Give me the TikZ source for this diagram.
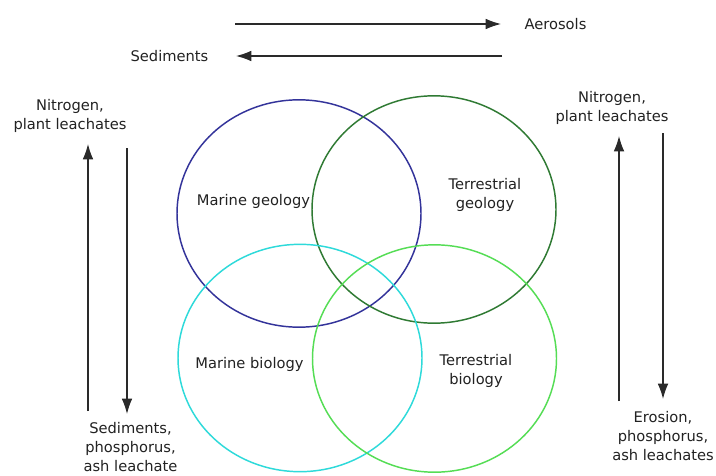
\documentclass[tikz,border=0pt]{standalone}
\usepackage{fontspec}
\setmainfont{DejaVu Sans}
\usetikzlibrary{shapes.geometric,arrows.meta}
\definecolor{cblue}{HTML}{33339A}
\definecolor{cdgreen}{HTML}{2F7A33}
\definecolor{ccyan}{HTML}{2EDADA}
\definecolor{clgreen}{HTML}{55DD55}
\definecolor{ctext}{HTML}{222222}
\definecolor{carrow}{HTML}{2A2A2A}
\tikzset{
  lbl/.style={font=\fontsize{11}{14.25}\selectfont, text=ctext, align=center, inner sep=0pt},
  venn/.style={ellipse, draw=#1, line width=1.1pt, minimum width=183pt, minimum height=170.5pt, inner sep=0pt},
  arr/.style={draw=carrow, line width=0.95pt, -{Latex[length=11.5pt,width=8pt]}},
}
\begin{document}
\begin{tikzpicture}[x=0.75pt,y=-0.75pt]
\useasboundingbox[fill=white] (0,0) rectangle (716,475);
% circles
\node[venn=cblue]   (mg) at (299,213.5) {};
\node[venn=cdgreen] (tg) at (434,209.5) {};
\node[venn=ccyan]   (mb) at (300,358) {};
\node[venn=clgreen] (tb) at (434.5,358.5) {};
% circle labels
\node[lbl] (mgl) at (253.5,201) {Marine geology};
\node[lbl] (tgl) at (485,194.5) {Terrestrial\\geology};
\node[lbl] (mbl) at (249.5,364) {Marine biology};
\node[lbl] (tbl) at (476,370.5) {Terrestrial\\biology};
% outer labels
\node[lbl] (aer) at (555.5,24.5) {Aerosols};
\node[lbl] (sed) at (169.5,56) {Sediments};
\node[lbl] (ln)  at (70,116) {Nitrogen,\\plant leachates};
\node[lbl] (rn)  at (612,108) {Nitrogen,\\plant leachates};
\node[lbl] (ls)  at (130.5,447.5) {Sediments,\\phosphorus,\\ash leachate};
\node[lbl] (re)  at (663,436) {Erosion,\\phosphorus,\\ash leachates};
% arrow end points
\coordinate (h1a) at (235,24);
\coordinate (h1b) at (501,24);
\coordinate (h2a) at (502,56);
\coordinate (h2b) at (236,56);
\coordinate (l1a) at (88,411);
\coordinate (l1b) at (88,144);
\coordinate (l2a) at (127,148);
\coordinate (l2b) at (127,414);
\coordinate (r1a) at (619,401);
\coordinate (r1b) at (619,136);
\coordinate (r2a) at (663,133);
\coordinate (r2b) at (663,399);
\draw[arr] (h1a) -- (h1b);
\draw[arr] (h2a) -- (h2b);
\draw[arr] (l1a) -- (l1b);
\draw[arr] (l2a) -- (l2b);
\draw[arr] (r1a) -- (r1b);
\draw[arr] (r2a) -- (r2b);
\end{tikzpicture}
\end{document}
